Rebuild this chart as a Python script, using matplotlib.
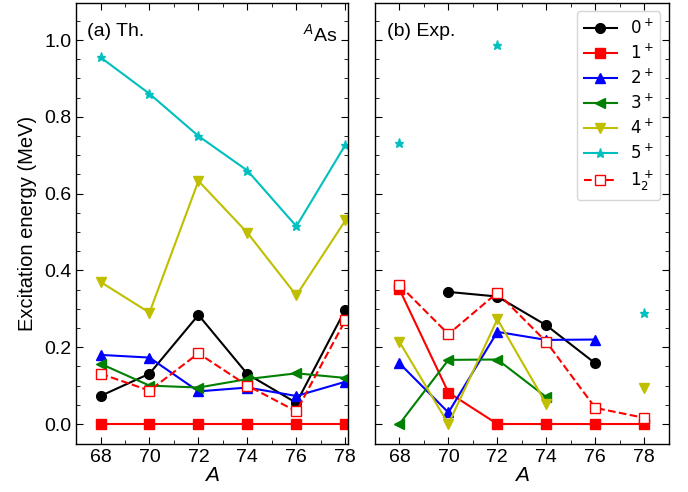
import numpy as np
import matplotlib.pyplot as plt

nan = np.nan
A = [68, 70, 72, 74, 76, 78]

# theory
th_0 = [0.073, 0.131, 0.284, 0.130, 0.055, 0.298]
th_1 = [0.0, 0.0, 0.0, 0.0, 0.0, 0.0]
th_2 = [0.180, 0.173, 0.085, 0.095, 0.073, 0.110]
th_3 = [0.157, 0.100, 0.095, 0.117, 0.132, 0.120]
th_4 = [0.370, 0.290, 0.633, 0.498, 0.335, 0.530]
th_5 = [0.955, 0.860, 0.750, 0.660, 0.515, 0.727]
th_12 = [0.131, 0.087, 0.184, 0.100, 0.033, 0.270]

# experiment
ex_0 = [nan, 0.344, 0.332, 0.257, 0.158, nan]
ex_1 = [0.351, 0.082, 0.0, 0.0, 0.0, 0.0]
ex_2 = [0.158, 0.030, 0.240, 0.219, 0.220, nan]
ex_3 = [0.0, 0.167, 0.168, 0.070, nan, nan]
ex_4 = [0.214, 0.0, 0.273, 0.052, nan, 0.095]
ex_5 = [0.733, nan, 0.987, nan, nan, 0.290]
ex_12 = [0.362, 0.234, 0.342, 0.214, 0.042, 0.016]

labels = ['$0^+$', '$1^+$', '$2^+$', '$3^+$', '$4^+$', '$5^+$', '$1_2^+$']
colors = ['k', 'r', 'b', 'g', 'y', 'c', 'r']
markers = ['o', 's', '^', '<', 'v', '*', 's']

plt.rcParams['font.family'] = ['Liberation Sans', 'DejaVu Sans']
plt.rcParams['font.size'] = 14
plt.rcParams['mathtext.fontset'] = 'custom'
plt.rcParams['mathtext.rm'] = 'Liberation Sans'
plt.rcParams['mathtext.it'] = 'Liberation Sans:italic'

fig = plt.figure(figsize=(6.88, 4.92), dpi=100)
ax1 = fig.add_axes([0.1105, 0.0976, 0.395, 0.896])
ax2 = fig.add_axes([0.545, 0.0976, 0.427, 0.896])

def draw(ax, series):
    for k, y in enumerate(series):
        ls = '--' if k == 6 else '-'
        mfc = 'white' if k == 6 else colors[k]
        ax.plot(A, y, ls=ls, color=colors[k], marker=markers[k],
                mfc=mfc, ms=7 if k != 5 else 6.5, lw=1.5, label=labels[k])

draw(ax1, [th_0, th_1, th_2, th_3, th_4, th_5, th_12])
draw(ax2, [ex_0, ex_1, ex_2, ex_3, ex_4, ex_5, ex_12])

for ax in (ax1, ax2):
    ax.set_ylim(-0.052, 1.096)
    ax.set_xticks(A)
    ax.set_yticks(np.arange(0.0, 1.01, 0.2))
    ax.set_yticks(np.arange(0.0, 1.1, 0.05), minor=True)
    ax.tick_params(which='both', direction='in', top=True, right=True)
    ax.tick_params(which='major', length=5, labelsize=14)
    ax.tick_params(which='minor', length=3)
    ax.set_xlabel('$A$', labelpad=0, fontsize=15)
    for s in ax.spines.values():
        s.set_linewidth(1.0)

ax1.set_xlim(67, 78.1)
ax1.set_xticks([67, 69, 71, 73, 75, 77], minor=True)
ax2.set_xlim(67, 79)
ax2.set_xticks([67, 69, 71, 73, 75, 77, 79], minor=True)
ax2.set_yticklabels([])
ax1.set_yticklabels(['0.0', '0.2', '0.4', '0.6', '0.8', '1.0'])
ax1.set_ylabel('Excitation energy (MeV)', labelpad=5, fontsize=14.5)

ax1.text(0.04, 0.955, '(a) Th.', transform=ax1.transAxes, va='top')
ax1.text(0.835, 0.955, '$^A$As', transform=ax1.transAxes, va='top')
ax2.text(0.04, 0.955, '(b) Exp.', transform=ax2.transAxes, va='top')

ax2.legend(loc='upper right', handlelength=2.0,
           labelspacing=0.35, borderpad=0.4,
           prop={'family': 'DejaVu Sans', 'size': 12,
                 'math_fontfamily': 'dejavusans'})

fig.savefig('out.png')
